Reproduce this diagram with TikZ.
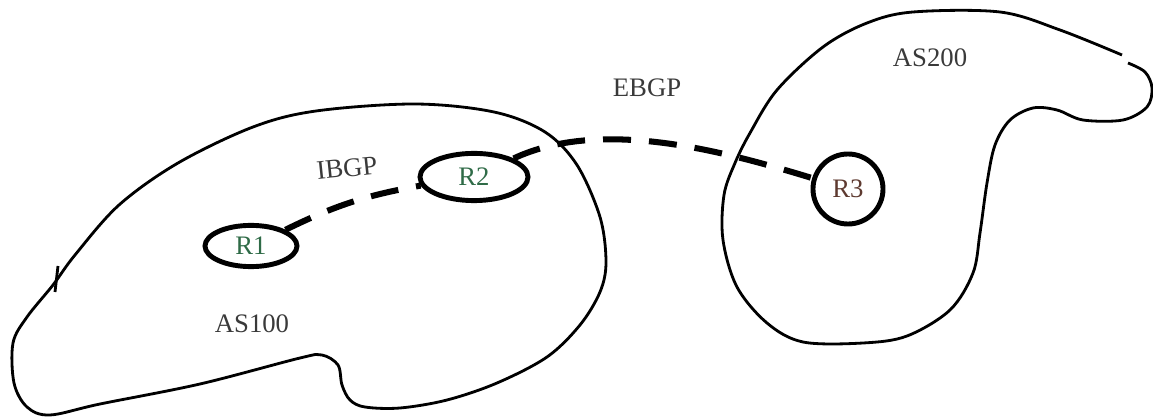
\documentclass[tikz,border=0pt]{standalone}
\usepackage{fontspec}
\setmainfont{Liberation Serif}
\usepackage{tikz}
\usetikzlibrary{shapes.geometric}
\definecolor{RtrGreen}{HTML}{2F6B47}
\definecolor{RtrBrown}{HTML}{5E3A30}
\definecolor{LblGray}{HTML}{3A3A3A}

\begin{document}
\begin{tikzpicture}[x=0.025cm,y=-0.025cm,
  asline/.style={line width=2pt,line join=round},
  rtr/.style={draw,ellipse,line width=3.5pt,inner sep=0pt,font=\fontsize{19}{22}\selectfont},
  linkdash/.style={line width=4.3pt,dash pattern=on 0.7cm off 0.45cm},
  aslabel/.style={text=LblGray,font=\fontsize{19}{22}\selectfont}]
\useasboundingbox (0,0) rectangle (1153,418);
\draw[asline] plot[smooth cycle,tension=0.55] coordinates {
  (13,343) (27,317) (53,285) (75,255) (119,205) (178,163) (253,127) (316,111)
  (415,104) (494,112) (545,132) (577,165) (600,217) (606,262) (600,292) (580,325)
  (547,357) (497,383) (447,400) (400,408) (365,407) (350,400) (342,385) (338,365)
  (322,355) (300,358) (200,384) (100,404) (50,415) (27,407) (14,383)};
\draw[asline] (58,266)--(55,292);
\draw[asline] plot[smooth,tension=0.55] coordinates {
  (1128,63) (1145,72) (1152,88) (1147,107) (1123,120) (1083,120) (1057,110) (1033,108)
  (1010,120) (995,145) (987,183) (980,233) (973,273) (950,310) (907,336) (863,343)
  (803,342) (767,323) (737,287) (723,240) (724,195) (735,163) (750,133) (777,90)
  (823,47) (867,23) (913,12) (1000,12) (1060,30) (1122,55)};
\node[rtr,text=RtrGreen,minimum width=2.3cm,minimum height=1.03cm] (R1) at (251,246) {R1};
\node[rtr,text=RtrGreen,minimum width=2.7cm,minimum height=1.18cm] (R2) at (474,177) {R2};
\node[rtr,circle,text=RtrBrown,minimum size=1.75cm] (R3) at (848,189) {R3};
\draw[linkdash] (R1) to[bend left=8] (R2);
\draw[linkdash] (R2) .. controls (600,118) and (720,150) .. (R3);
\node[aslabel,rotate=6] (ibgp) at (347,168) {IBGP};
\node[aslabel] (ebgp) at (647,88) {EBGP};
\node[aslabel] (as100) at (252,324) {AS100};
\node[aslabel] (as200) at (930,58) {AS200};
\end{tikzpicture}
\end{document}
